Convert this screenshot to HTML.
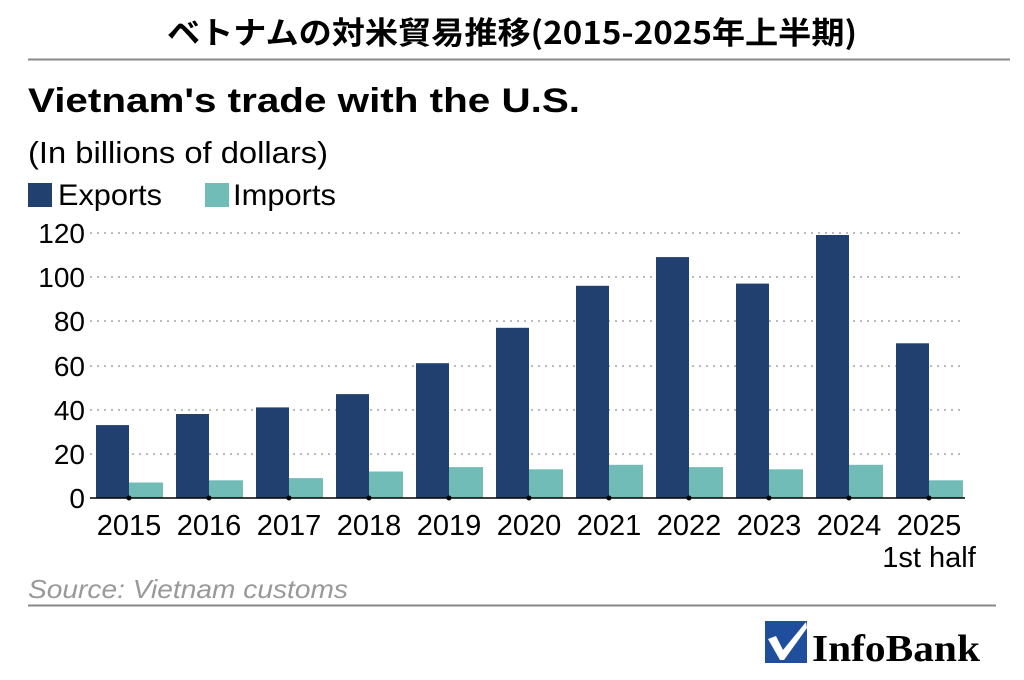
<!DOCTYPE html>
<html><head><meta charset="utf-8"><style>body{margin:0;background:#fff}svg{display:block}</style></head><body>
<svg width="1024" height="680" xmlns="http://www.w3.org/2000/svg" font-family="Liberation Sans, sans-serif">
<rect width="1024" height="680" fill="#fff"/>
<text x="512" y="44" text-anchor="middle" font-family="Noto Sans CJK JP, sans-serif" font-weight="bold" font-size="31" textLength="690" lengthAdjust="spacingAndGlyphs">ベトナムの対米貿易推移(2015-2025年上半期)</text>
<line x1="28" y1="59.5" x2="1010" y2="59.5" stroke="#888" stroke-width="2"/>
<text x="28" y="112" font-weight="bold" font-size="34" textLength="552" lengthAdjust="spacingAndGlyphs">Vietnam's trade with the U.S.</text>
<text x="28" y="163" font-size="31" textLength="300" lengthAdjust="spacingAndGlyphs">(In billions of dollars)</text>
<rect x="28" y="183" width="24" height="24" fill="#213f6f"/>
<text x="58" y="205" font-size="30" textLength="104" lengthAdjust="spacingAndGlyphs">Exports</text>
<rect x="205" y="183" width="24" height="24" fill="#72bcb8"/>
<text x="233" y="205" font-size="30" textLength="103" lengthAdjust="spacingAndGlyphs">Imports</text>
<g stroke="#bbb" stroke-width="2" stroke-dasharray="2,5">
<line x1="90" y1="233" x2="965" y2="233"/><line x1="90" y1="277" x2="965" y2="277"/><line x1="90" y1="321" x2="965" y2="321"/><line x1="90" y1="366" x2="965" y2="366"/><line x1="90" y1="410" x2="965" y2="410"/><line x1="90" y1="454" x2="965" y2="454"/>
</g>
<g font-size="28" text-anchor="end">
<text x="85" y="243">120</text><text x="85" y="287">100</text><text x="85" y="331">80</text><text x="85" y="376">60</text><text x="85" y="420">40</text><text x="85" y="464">20</text><text x="85" y="508">0</text>
</g>
<g fill="#213f6f">
<rect x="96" y="425.1" width="33" height="72.9"/>
<rect x="176" y="414" width="33" height="84"/>
<rect x="256" y="407.4" width="33" height="90.6"/>
<rect x="336" y="394.1" width="33" height="103.9"/>
<rect x="416" y="363.2" width="33" height="134.8"/>
<rect x="496" y="327.8" width="33" height="170.2"/>
<rect x="576" y="285.8" width="33" height="212.2"/>
<rect x="656" y="257.1" width="33" height="240.9"/>
<rect x="736" y="283.6" width="33" height="214.4"/>
<rect x="816" y="235" width="33" height="263"/>
<rect x="896" y="343.3" width="33" height="154.7"/>
</g>
<g fill="#72bcb8">
<rect x="129" y="482.5" width="34" height="15.5"/>
<rect x="209" y="480.3" width="34" height="17.7"/>
<rect x="289" y="478.1" width="34" height="19.9"/>
<rect x="369" y="471.5" width="34" height="26.5"/>
<rect x="449" y="467.1" width="34" height="30.9"/>
<rect x="529" y="469.3" width="34" height="28.7"/>
<rect x="609" y="464.8" width="34" height="33.2"/>
<rect x="689" y="467.1" width="34" height="30.9"/>
<rect x="769" y="469.3" width="34" height="28.7"/>
<rect x="849" y="464.8" width="34" height="33.2"/>
<rect x="929" y="480.3" width="34" height="17.7"/>
</g>
<line x1="90" y1="498" x2="965" y2="498" stroke="#000" stroke-width="1.5"/>
<g fill="#000">
<circle cx="129" cy="498" r="2.5"/><circle cx="209" cy="498" r="2.5"/><circle cx="289" cy="498" r="2.5"/><circle cx="369" cy="498" r="2.5"/><circle cx="449" cy="498" r="2.5"/><circle cx="529" cy="498" r="2.5"/><circle cx="609" cy="498" r="2.5"/><circle cx="689" cy="498" r="2.5"/><circle cx="769" cy="498" r="2.5"/><circle cx="849" cy="498" r="2.5"/><circle cx="929" cy="498" r="2.5"/>
</g>
<g font-size="29" text-anchor="middle">
<text x="129" y="535">2015</text><text x="209" y="535">2016</text><text x="289" y="535">2017</text><text x="369" y="535">2018</text><text x="449" y="535">2019</text><text x="529" y="535">2020</text><text x="609" y="535">2021</text><text x="689" y="535">2022</text><text x="769" y="535">2023</text><text x="849" y="535">2024</text><text x="929" y="535">2025</text>
<text x="929" y="567">1st half</text>
</g>
<text x="28" y="598" font-size="26" font-style="italic" fill="#999" textLength="320" lengthAdjust="spacingAndGlyphs">Source: Vietnam customs</text>
<line x1="28" y1="605.5" x2="996" y2="605.5" stroke="#888" stroke-width="2"/>
<rect x="765" y="621" width="42" height="42" fill="#1f4e9c"/>
<path d="M768 639 L776 636 L783 650 L806 622 L807 628 L784 660 L780 660 Z" fill="#fff"/>
<text x="812" y="661" font-family="Liberation Serif, serif" font-weight="bold" font-size="38" textLength="168" lengthAdjust="spacingAndGlyphs">InfoBank</text>
</svg>
</body></html>
